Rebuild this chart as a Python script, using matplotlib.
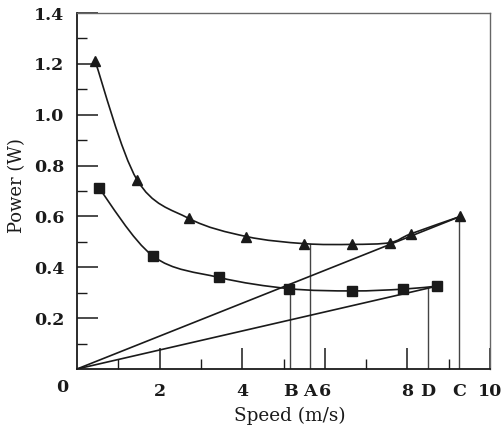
import matplotlib
matplotlib.use("Agg")
import matplotlib.pyplot as plt
from matplotlib.path import Path
from matplotlib.patches import PathPatch
import numpy as np

# Data
tri_x = [0.44, 1.45, 2.71, 4.10, 5.50, 6.66, 7.58, 8.09, 9.28]
tri_y = [1.21, 0.745, 0.592, 0.521, 0.493, 0.490, 0.497, 0.532, 0.600]
sq_x = [0.53, 1.84, 3.44, 5.13, 6.66, 7.89, 8.72]
sq_y = [0.712, 0.444, 0.360, 0.316, 0.307, 0.314, 0.326]

# tangent lines from origin
tan_end_x = [9.28, 8.72]
tan_end_y = [0.600, 0.326]

# marked speeds (vertical drop lines)
mark_labels = ["B", "A", "D", "C"]
mark_x = [5.16, 5.64, 8.49, 9.26]
mark_top = [0.315, 0.492, 0.318, 0.600]

major_x = [2, 4, 6, 8, 10]
major_y = [0.2, 0.4, 0.6, 0.8, 1.0, 1.2, 1.4]

FONT = "DejaVu Serif"
INK = "#1a1a1a"


def smooth_path(xs, ys):
    pts = np.column_stack([xs, ys])
    n = len(pts)
    verts = [pts[0]]
    codes = [Path.MOVETO]
    for i in range(n - 1):
        p0 = pts[i - 1] if i > 0 else pts[i]
        p1 = pts[i]
        p2 = pts[i + 1]
        p3 = pts[i + 2] if i + 2 < n else pts[i + 1]
        c1 = p1 + (p2 - p0) / 6.0
        c2 = p2 - (p3 - p1) / 6.0
        verts += [c1, c2, p2]
        codes += [Path.CURVE4] * 3
    return Path(verts, codes)


fig = plt.figure(figsize=(5.03, 4.30), dpi=100)
ax = fig.add_axes([77 / 503, 61 / 430, 413 / 503, 356 / 430])

ax.set_xlim(0, 10)
ax.set_ylim(0, 1.4)

# smooth curves
for xs, ys in [(tri_x, tri_y), (sq_x, sq_y)]:
    ax.add_patch(PathPatch(smooth_path(xs, ys), facecolor="none",
                           edgecolor=INK, lw=1.2, zorder=3))

# tangent lines
for ex, ey in zip(tan_end_x, tan_end_y):
    ax.plot([0, ex], [0, ey], color=INK, lw=1.2, zorder=3)

# vertical lines
for mx, mt in zip(mark_x, mark_top):
    ax.plot([mx, mx], [0, mt], color="#444444", lw=1.0, zorder=2)

# markers
ax.plot(tri_x, tri_y, linestyle="none", marker="^", markersize=7.2,
        color=INK, zorder=4)
ax.plot(sq_x, sq_y, linestyle="none", marker="s", markersize=6.5,
        color=INK, zorder=4)

# ticks
xt = major_x + mark_x
xl = [str(v) for v in major_x] + mark_labels
ax.set_xticks(xt)
ax.set_xticklabels(xl)
ax.set_xticks([1, 3, 5, 7, 9], minor=True)
ax.set_yticks(major_y)
ax.set_yticklabels([f"{v:.1f}" for v in major_y])
ax.set_yticks([0.1, 0.3, 0.5, 0.7, 0.9, 1.1, 1.3], minor=True)

ax.tick_params(which="major", direction="in", length=15, width=1.1,
               color=INK, labelsize=12.5, pad=9)
ax.tick_params(which="minor", direction="in", length=7, width=1.0,
               color=INK)
ax.tick_params(axis="x", which="major", pad=10)
for t in ax.xaxis.get_major_ticks()[len(major_x):]:
    t.tick1line.set_visible(False)
for lab in ax.get_xticklabels() + ax.get_yticklabels():
    lab.set_family(FONT)
    lab.set_weight("bold")
    lab.set_color(INK)

ax.annotate("0", xy=(0, 0), xycoords="data", xytext=(-15, -18),
            textcoords="offset pixels", ha="center", va="center",
            fontsize=12.5, family=FONT, weight="bold", color=INK,
            annotation_clip=False)

ax.set_xlabel("Speed (m/s)", family=FONT, fontsize=13.3, color=INK)
ax.xaxis.set_label_coords(0.5 + 6.5 / 413, -(407 - 369) / 356)
ax.set_ylabel("Power (W)", family=FONT, fontsize=13, color=INK)
ax.yaxis.set_label_coords(-(77 - 26) / 413, (430 - 186 - 61) / 356)

for s in ["left", "bottom"]:
    ax.spines[s].set_color(INK)
    ax.spines[s].set_linewidth(1.3)
for s in ["top", "right"]:
    ax.spines[s].set_color("#666666")
    ax.spines[s].set_linewidth(1.0)

fig.savefig("out.png", dpi=100)
